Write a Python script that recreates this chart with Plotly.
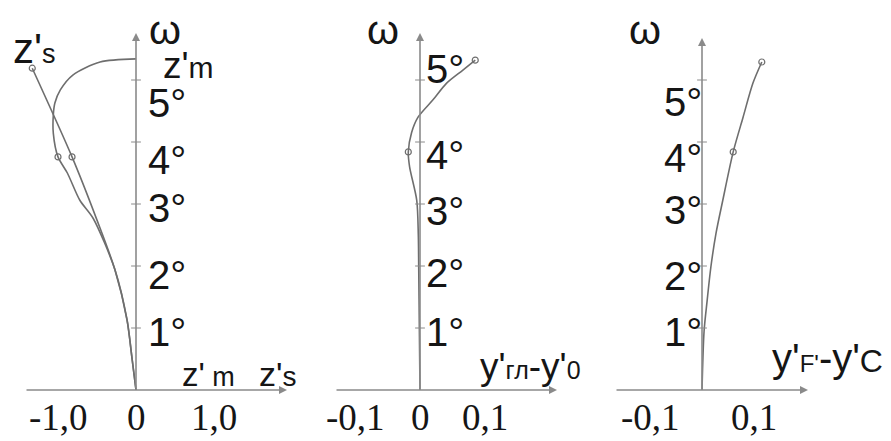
import plotly.graph_objects as go

# ---------------- data ----------------
# Panel 1: z's and z'm versus omega (degrees)
omega_zs = [0, 0.5, 1.13, 1.94, 2.74, 3.76, 5.19]
zs = [0, -0.05, -0.115, -0.27, -0.5, -0.82, -1.33]
omega_zm = [0, 0.5, 1.13, 1.94, 2.77, 3.06, 3.5, 3.76, 4.14, 4.44, 4.63, 4.84, 5.08, 5.29, 5.34]
zm = [0, -0.05, -0.115, -0.27, -0.55, -0.72, -0.88, -1.0, -1.06, -1.06, -1.04, -0.97, -0.81, -0.46, 0]
zs_markers_omega = [5.19, 3.76]
zs_markers = [-1.33, -0.82]
zm_markers_omega = [3.76]
zm_markers = [-1.0]

# Panel 2: y'гл - y'0
omega_p2 = [0, 1, 2, 2.5, 3.06, 3.6, 3.84, 4.15, 4.4, 4.68, 4.95, 5.16, 5.32]
p2 = [0, -0.001, -0.002, -0.0026, -0.005, -0.016, -0.018, -0.013, -0.003, 0.02, 0.041, 0.066, 0.085]
p2_markers_omega = [3.84, 5.32]
p2_markers = [-0.018, 0.085]

# Panel 3: y'F' - y'C
omega_p3 = [0, 0.95, 1.45, 1.98, 2.53, 3.06, 3.84, 4.4, 4.95, 5.29]
p3 = [0, 0.004, 0.01, 0.017, 0.027, 0.04, 0.06, 0.079, 0.098, 0.115]
p3_markers_omega = [3.84, 5.29]
p3_markers = [0.06, 0.115]

degree_ticks = [1, 2, 3, 4, 5]
degree_labels = ["1°", "2°", "3°", "4°", "5°"]
p1_xticks = [-1.0, 0, 1.0]
p1_xticklabels = ["-1,0", "0", "1,0"]
p2_xticks = [-0.1, 0, 0.1]
p2_xticklabels = ["-0,1", "0", "0,1"]
p3_xticks = [-0.1, 0.1]
p3_xticklabels = ["-0,1", "0,1"]

# ---------------- styling ----------------
OFF = 8                      # page body margin in the browser
W, H = 891 - OFF, 441 - OFF  # figure size so that it fills the window
LINE = "#6e6e6e"
AXC = "#8a8a8a"
TXT = "#151515"
SANS = "Liberation Sans, Arial, sans-serif"
SERIF = "Liberation Serif, Times New Roman, serif"

# pixel geometry of the three panels (window pixels): zero px, px per unit, domain px
Y0, YS = 390 - OFF, 62
panels = [
    dict(x0=136 - OFF, xs=78, d=(0, 300 - OFF)),
    dict(x0=420 - OFF, xs=650, d=(300 - OFF, 600 - OFF)),
    dict(x0=702 - OFF, xs=520, d=(600 - OFF, W)),
]
yrange = [(Y0 - H) / YS, Y0 / YS]

fig = go.Figure()
axis_names = [("x", "y"), ("x2", "y2"), ("x3", "y3")]

def add_curve(i, xs, ys):
    xa, ya = axis_names[i]
    fig.add_trace(go.Scatter(x=xs, y=ys, mode="lines", xaxis=xa, yaxis=ya,
                             line=dict(color=LINE, width=1.6, shape="spline", smoothing=0.8),
                             hoverinfo="skip", showlegend=False))

def add_markers(i, xs, ys):
    xa, ya = axis_names[i]
    fig.add_trace(go.Scatter(x=xs, y=ys, mode="markers", xaxis=xa, yaxis=ya,
                             marker=dict(symbol="circle-open", size=6, color=LINE, line=dict(width=1.2)),
                             hoverinfo="skip", showlegend=False))

add_curve(0, zs, omega_zs)
add_curve(0, zm, omega_zm)
add_markers(0, zs_markers, zs_markers_omega)
add_markers(0, zm_markers, zm_markers_omega)
add_curve(1, p2, omega_p2)
add_markers(1, p2_markers, p2_markers_omega)
add_curve(2, p3, omega_p3)
add_markers(2, p3_markers, p3_markers_omega)

# y-axis tick marks
for i in range(3):
    xa, ya = axis_names[i]
    fig.add_trace(go.Scatter(x=[0] * len(degree_ticks), y=degree_ticks, mode="markers",
                             xaxis=xa, yaxis=ya,
                             marker=dict(symbol="line-ew", size=7, line=dict(color=AXC, width=1)),
                             hoverinfo="skip", showlegend=False))

layout = dict(width=W, height=H, margin=dict(l=0, r=0, t=0, b=0),
              paper_bgcolor="white", plot_bgcolor="white", showlegend=False)
for i, p in enumerate(panels):
    sfx = "" if i == 0 else str(i + 1)
    d0, d1 = p["d"]
    layout["xaxis" + sfx] = dict(domain=[d0 / W, d1 / W],
                                 range=[(d0 - p["x0"]) / p["xs"], (d1 - p["x0"]) / p["xs"]],
                                 visible=False, anchor="y" + sfx, fixedrange=True)
    layout["yaxis" + sfx] = dict(domain=[0, 1], range=yrange, visible=False,
                                 anchor="x" + sfx, fixedrange=True)
fig.update_layout(**layout)

ann = []
# axis lines with arrows (extent in window px)
axis_ext = [  # (x-axis left px, right px, y-axis top px)
    (25, 287, 33),
    (335, 557, 33),
    (615, 808, 38),
]
for i, (p, (l, r, t)) in enumerate(zip(panels, axis_ext)):
    xa, ya = axis_names[i]
    xl = (l - OFF - p["x0"]) / p["xs"]
    xr = (r - OFF - p["x0"]) / p["xs"]
    yt = (Y0 - (t - OFF)) / YS
    ann.append(dict(x=xr, y=0, ax=xl, ay=0, xref=xa, yref=ya, axref=xa, ayref=ya,
                    text="", showarrow=True, arrowhead=2, arrowsize=1, arrowwidth=1.6,
                    arrowcolor=AXC, standoff=0, startstandoff=0))
    ann.append(dict(x=0, y=yt, ax=0, ay=0, xref=xa, yref=ya, axref=xa, ayref=ya,
                    text="", showarrow=True, arrowhead=2, arrowsize=1, arrowwidth=1.6,
                    arrowcolor=AXC, standoff=0, startstandoff=0))

# x tick labels
for i, (vals, labs) in enumerate([(p1_xticks, p1_xticklabels), (p2_xticks, p2_xticklabels),
                                  (p3_xticks, p3_xticklabels)]):
    xa, ya = axis_names[i]
    for v, s in zip(vals, labs):
        ann.append(dict(x=v, y=0, xref=xa, yref=ya, text=s, showarrow=False,
                        yanchor="middle", yshift=-27, xanchor="center",
                        font=dict(family=SERIF, size=37, color=TXT)))

# degree labels (pixel offsets relative to tick)
deg_shift = [
    [-4, -9, -4, -18, -23],
    [-4, -7, -7, -13, 11],
    [-4, -10, -6, -16, -22],
]
for i in range(3):
    xa, ya = axis_names[i]
    for k, s, dy in zip(degree_ticks, degree_labels, deg_shift[i]):
        if i == 2:
            a = dict(xanchor="right", xshift=1)
        elif i == 0:
            a = dict(xanchor="left", xshift=11)
        else:
            a = dict(xanchor="left", xshift=5)
        ann.append(dict(x=0, y=k, xref=xa, yref=ya, text=s, showarrow=False,
                        yanchor="middle", yshift=dy, borderpad=0,
                        font=dict(family=SANS, size=40, color=TXT), **a))

def P(px, py):
    return dict(x=(px - OFF) / W, y=1 - (py - OFF) / H, xref="paper", yref="paper")

def label(px, py, text, size, xanchor="left", pad=1):
    d = P(px, py)
    d.update(text=text, showarrow=False, xanchor=xanchor, yanchor="middle", borderpad=pad,
             font=dict(family=SANS, size=size, color=TXT))
    ann.append(d)

def sm(t, s):
    return f'<span style="font-size:{s}px">{t}</span>'

label(165, 30, "ω", 41, "center", 0)
label(383, 30, "ω", 41, "center", 0)
label(645, 30, "ω", 41, "center", 0)
label(11, 48, "z'" + sm("s", 27), 42)
label(162, 65, "z'" + sm("m", 30), 37, pad=0)
label(180, 374, "z'" + sm(" m", 27), 33)
label(257, 374, "z'" + sm("s", 28), 34)
label(478, 366, "y'" + sm("гл", 25) + "-y'" + sm("0", 25), 37)
label(770, 358, "y'" + sm("F'", 24) + "-y'" + sm("C", 32), 40)

fig.update_layout(annotations=ann)
fig.write_html("out.html")
